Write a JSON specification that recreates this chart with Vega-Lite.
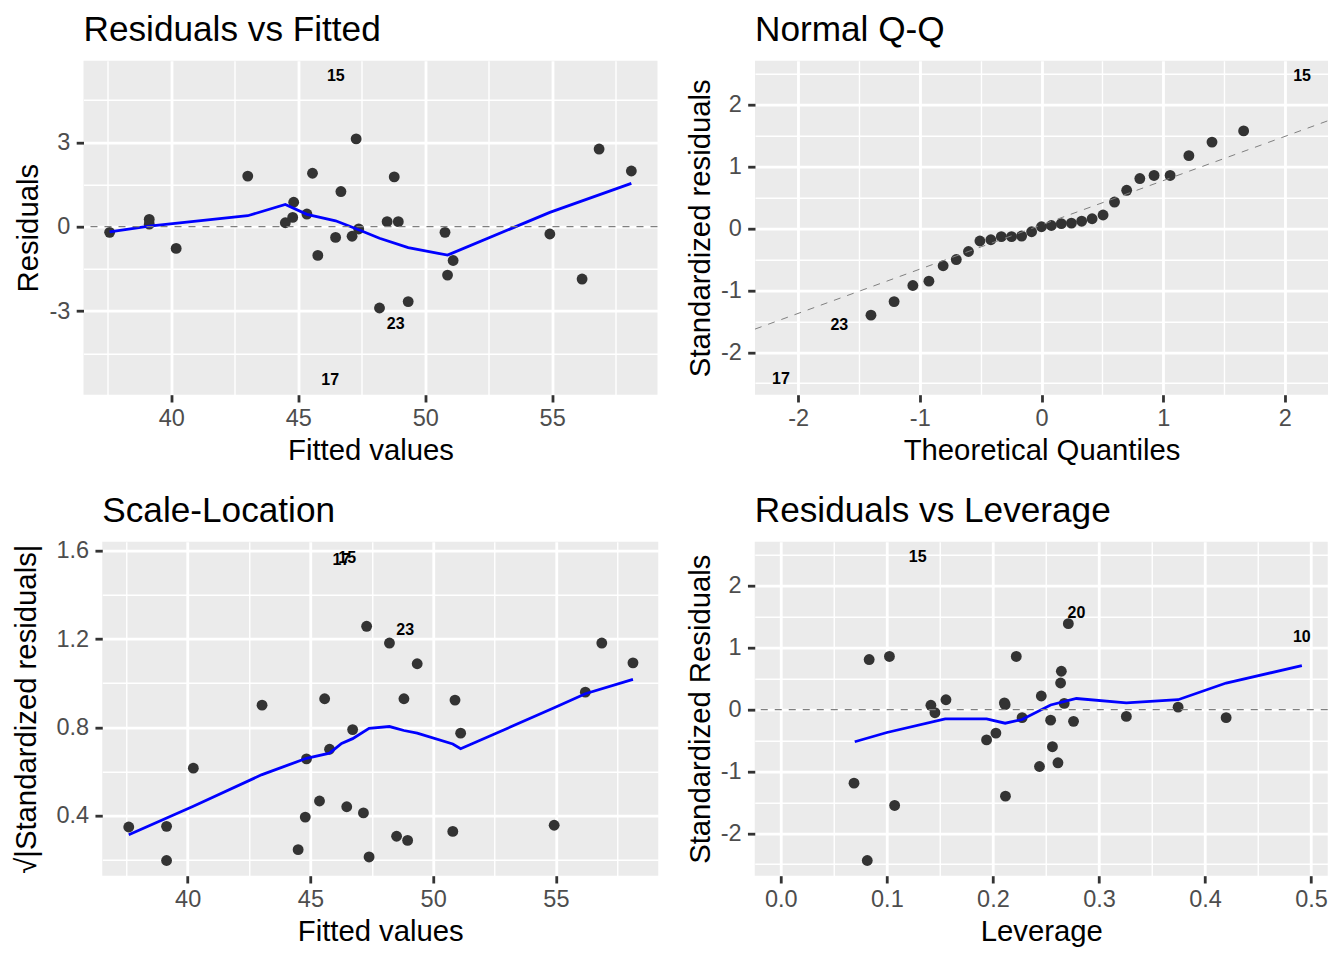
{
  "$schema": "https://vega.github.io/schema/vega-lite/v6.json",
  "padding": {"left": 12.3, "top": 12.7, "right": 5, "bottom": 5},
  "background": "#FFFFFF",
  "datasets": {
    "rvf": [
      {"fitted": 37.57, "resid": -0.20, "lab": null},
      {"fitted": 39.13, "resid": 0.26, "lab": null},
      {"fitted": 39.13, "resid": 0.09, "lab": null},
      {"fitted": 40.19, "resid": -0.77, "lab": null},
      {"fitted": 43.01, "resid": 1.80, "lab": null},
      {"fitted": 44.49, "resid": 0.14, "lab": null},
      {"fitted": 44.82, "resid": 0.87, "lab": null},
      {"fitted": 44.78, "resid": 0.33, "lab": null},
      {"fitted": 45.34, "resid": 0.45, "lab": null},
      {"fitted": 45.56, "resid": 1.90, "lab": null},
      {"fitted": 45.77, "resid": -1.02, "lab": null},
      {"fitted": 46.47, "resid": -0.38, "lab": null},
      {"fitted": 46.68, "resid": 1.25, "lab": null},
      {"fitted": 47.28, "resid": 3.12, "lab": null},
      {"fitted": 47.12, "resid": -0.34, "lab": null},
      {"fitted": 47.38, "resid": -0.08, "lab": null},
      {"fitted": 48.20, "resid": -2.89, "lab": null},
      {"fitted": 48.50, "resid": 0.18, "lab": null},
      {"fitted": 48.78, "resid": 1.77, "lab": null},
      {"fitted": 48.94, "resid": 0.18, "lab": null},
      {"fitted": 49.33, "resid": -2.66, "lab": null},
      {"fitted": 50.78, "resid": -0.20, "lab": null},
      {"fitted": 51.10, "resid": -1.20, "lab": null},
      {"fitted": 50.88, "resid": -1.72, "lab": null},
      {"fitted": 54.91, "resid": -0.26, "lab": null},
      {"fitted": 56.18, "resid": -1.86, "lab": null},
      {"fitted": 56.85, "resid": 2.76, "lab": null},
      {"fitted": 58.12, "resid": 1.98, "lab": null},
      {"fitted": 46.48, "resid": 5.36, "lab": "15"},
      {"fitted": 46.26, "resid": -5.43, "lab": "17"},
      {"fitted": 48.84, "resid": -3.44, "lab": "23"}
    ],
    "rvf_smooth": [
      {"fitted": 37.57, "resid": -0.18},
      {"fitted": 39.13, "resid": 0.02},
      {"fitted": 43.01, "resid": 0.39},
      {"fitted": 44.49, "resid": 0.79},
      {"fitted": 45.34, "resid": 0.44},
      {"fitted": 46.47, "resid": 0.21},
      {"fitted": 47.38, "resid": -0.11},
      {"fitted": 48.20, "resid": -0.41},
      {"fitted": 49.33, "resid": -0.74},
      {"fitted": 50.88, "resid": -1.01},
      {"fitted": 54.91, "resid": 0.51},
      {"fitted": 58.12, "resid": 1.54}
    ],
    "qq": [
      {"theo": -2.141, "stdres": -2.44, "lab": "17"},
      {"theo": -1.661, "stdres": -1.56, "lab": "23"},
      {"theo": -1.401, "stdres": -1.40, "lab": null},
      {"theo": -1.211, "stdres": -1.18, "lab": null},
      {"theo": -1.057, "stdres": -0.92, "lab": null},
      {"theo": -0.925, "stdres": -0.85, "lab": null},
      {"theo": -0.808, "stdres": -0.60, "lab": null},
      {"theo": -0.700, "stdres": -0.50, "lab": null},
      {"theo": -0.600, "stdres": -0.37, "lab": null},
      {"theo": -0.506, "stdres": -0.20, "lab": null},
      {"theo": -0.416, "stdres": -0.18, "lab": null},
      {"theo": -0.330, "stdres": -0.13, "lab": null},
      {"theo": -0.246, "stdres": -0.13, "lab": null},
      {"theo": -0.163, "stdres": -0.12, "lab": null},
      {"theo": -0.081, "stdres": -0.05, "lab": null},
      {"theo": 0.0, "stdres": 0.03, "lab": null},
      {"theo": 0.081, "stdres": 0.05, "lab": null},
      {"theo": 0.163, "stdres": 0.08, "lab": null},
      {"theo": 0.246, "stdres": 0.09, "lab": null},
      {"theo": 0.330, "stdres": 0.12, "lab": null},
      {"theo": 0.416, "stdres": 0.16, "lab": null},
      {"theo": 0.506, "stdres": 0.22, "lab": null},
      {"theo": 0.600, "stdres": 0.43, "lab": null},
      {"theo": 0.700, "stdres": 0.62, "lab": null},
      {"theo": 0.808, "stdres": 0.81, "lab": null},
      {"theo": 0.925, "stdres": 0.86, "lab": null},
      {"theo": 1.057, "stdres": 0.86, "lab": null},
      {"theo": 1.211, "stdres": 1.18, "lab": null},
      {"theo": 1.401, "stdres": 1.40, "lab": null},
      {"theo": 1.661, "stdres": 1.58, "lab": null},
      {"theo": 2.141, "stdres": 2.47, "lab": "15"}
    ],
    "qqline": [
      {"theo": -2.354, "stdres": -1.625},
      {"theo": 2.354, "stdres": 1.745}
    ],
    "sl": [
      {"fitted": 37.60, "val": 0.347, "lab": null},
      {"fitted": 39.14, "val": 0.350, "lab": null},
      {"fitted": 39.14, "val": 0.195, "lab": null},
      {"fitted": 40.23, "val": 0.614, "lab": null},
      {"fitted": 43.03, "val": 0.900, "lab": null},
      {"fitted": 44.50, "val": 0.244, "lab": null},
      {"fitted": 44.79, "val": 0.392, "lab": null},
      {"fitted": 44.84, "val": 0.656, "lab": null},
      {"fitted": 45.37, "val": 0.465, "lab": null},
      {"fitted": 45.58, "val": 0.929, "lab": null},
      {"fitted": 45.78, "val": 0.700, "lab": null},
      {"fitted": 46.48, "val": 0.439, "lab": null},
      {"fitted": 46.72, "val": 0.789, "lab": null},
      {"fitted": 47.29, "val": 1.258, "lab": null},
      {"fitted": 47.16, "val": 0.411, "lab": null},
      {"fitted": 47.39, "val": 0.211, "lab": null},
      {"fitted": 48.22, "val": 1.182, "lab": null},
      {"fitted": 48.51, "val": 0.305, "lab": null},
      {"fitted": 48.81, "val": 0.929, "lab": null},
      {"fitted": 48.96, "val": 0.286, "lab": null},
      {"fitted": 49.35, "val": 1.088, "lab": null},
      {"fitted": 50.80, "val": 0.327, "lab": null},
      {"fitted": 50.89, "val": 0.923, "lab": null},
      {"fitted": 51.12, "val": 0.773, "lab": null},
      {"fitted": 54.93, "val": 0.355, "lab": null},
      {"fitted": 56.20, "val": 0.959, "lab": null},
      {"fitted": 56.87, "val": 1.182, "lab": null},
      {"fitted": 58.14, "val": 1.092, "lab": null},
      {"fitted": 46.26, "val": 1.560, "lab": "17"},
      {"fitted": 46.50, "val": 1.570, "lab": "15"},
      {"fitted": 48.86, "val": 1.240, "lab": "23"}
    ],
    "sl_smooth": [
      {"fitted": 37.60, "val": 0.312},
      {"fitted": 40.23, "val": 0.441},
      {"fitted": 43.03, "val": 0.585},
      {"fitted": 44.84, "val": 0.659},
      {"fitted": 45.78, "val": 0.682},
      {"fitted": 46.27, "val": 0.726},
      {"fitted": 46.72, "val": 0.748},
      {"fitted": 47.39, "val": 0.795},
      {"fitted": 48.22, "val": 0.803},
      {"fitted": 48.81, "val": 0.785},
      {"fitted": 49.35, "val": 0.773},
      {"fitted": 50.80, "val": 0.724},
      {"fitted": 51.12, "val": 0.702},
      {"fitted": 54.93, "val": 0.888},
      {"fitted": 56.20, "val": 0.952},
      {"fitted": 58.14, "val": 1.017}
    ],
    "rvl": [
      {"lev": 0.069, "stdres": -1.19, "lab": null},
      {"lev": 0.0815, "stdres": -2.44, "lab": null},
      {"lev": 0.0833, "stdres": 0.81, "lab": null},
      {"lev": 0.1024, "stdres": 0.86, "lab": null},
      {"lev": 0.1073, "stdres": -1.55, "lab": null},
      {"lev": 0.1415, "stdres": 0.07, "lab": null},
      {"lev": 0.1453, "stdres": -0.05, "lab": null},
      {"lev": 0.1557, "stdres": 0.16, "lab": null},
      {"lev": 0.194, "stdres": -0.49, "lab": null},
      {"lev": 0.2028, "stdres": -0.38, "lab": null},
      {"lev": 0.2108, "stdres": 0.11, "lab": null},
      {"lev": 0.2115, "stdres": 0.08, "lab": null},
      {"lev": 0.2118, "stdres": -1.40, "lab": null},
      {"lev": 0.222, "stdres": 0.86, "lab": null},
      {"lev": 0.2275, "stdres": -0.13, "lab": null},
      {"lev": 0.2439, "stdres": -0.92, "lab": null},
      {"lev": 0.2456, "stdres": 0.22, "lab": null},
      {"lev": 0.2544, "stdres": -0.17, "lab": null},
      {"lev": 0.2561, "stdres": -0.60, "lab": null},
      {"lev": 0.2613, "stdres": -0.86, "lab": null},
      {"lev": 0.2638, "stdres": 0.43, "lab": null},
      {"lev": 0.2645, "stdres": 0.62, "lab": null},
      {"lev": 0.2672, "stdres": 0.10, "lab": null},
      {"lev": 0.2711, "stdres": 1.39, "lab": null},
      {"lev": 0.276, "stdres": -0.19, "lab": null},
      {"lev": 0.3258, "stdres": -0.11, "lab": null},
      {"lev": 0.3746, "stdres": 0.04, "lab": null},
      {"lev": 0.4199, "stdres": -0.13, "lab": null},
      {"lev": 0.129, "stdres": 2.47, "lab": "15"},
      {"lev": 0.2787, "stdres": 1.57, "lab": "20"},
      {"lev": 0.4913, "stdres": 1.18, "lab": "10"}
    ],
    "rvl_smooth": [
      {"lev": 0.0697, "stdres": -0.52},
      {"lev": 0.1, "stdres": -0.37},
      {"lev": 0.155, "stdres": -0.15},
      {"lev": 0.194, "stdres": -0.15},
      {"lev": 0.2115, "stdres": -0.22},
      {"lev": 0.2275, "stdres": -0.16},
      {"lev": 0.2544, "stdres": 0.075},
      {"lev": 0.2787, "stdres": 0.18},
      {"lev": 0.3258, "stdres": 0.11},
      {"lev": 0.3746, "stdres": 0.16},
      {"lev": 0.4199, "stdres": 0.43},
      {"lev": 0.4913, "stdres": 0.71}
    ]
  },
  "center": true,
  "spacing": 27,
  "vconcat": [
    {
      "spacing": 27.5,
      "hconcat": [
        {
          "width": 574, "height": 334,
          "title": {"text": "Residuals vs Fitted", "offset": 12},
          "layer": [
            {
              "data": {"name": "rvf"},
              "transform": [{"filter": "datum.lab == null"}],
              "mark": {"type": "point", "filled": true, "size": 118, "color": "#333333", "opacity": 1},
              "encoding": {
                "x": {"field": "fitted", "type": "quantitative", "title": "Fitted values",
                  "scale": {"domain": [36.54, 59.15], "nice": false, "zero": false},
                  "axis": {"values": [37.5, 40, 42.5, 45, 47.5, 50, 52.5, 55, 57.5], "tickCount": 30,
                    "labelExpr": "indexof([40, 45, 50, 55], datum.value) >= 0 ? '' + datum.value : ''",
                    "gridWidth": {"condition": {"test": "indexof([40, 45, 50, 55], datum.value) >= 0", "value": 2.8}, "value": 1.4},
                    "tickOpacity": {"condition": {"test": "indexof([40, 45, 50, 55], datum.value) >= 0", "value": 1}, "value": 0}}},
                "y": {"field": "resid", "type": "quantitative", "title": "Residuals",
                  "scale": {"domain": [-5.97, 5.9], "nice": false, "zero": false},
                  "axis": {"values": [-4.5, -3, -1.5, 0, 1.5, 3, 4.5], "tickCount": 30, "titlePadding": 5,
                    "labelExpr": "indexof([-3, 0, 3], datum.value) >= 0 ? '' + datum.value : ''",
                    "gridWidth": {"condition": {"test": "indexof([-3, 0, 3], datum.value) >= 0", "value": 2.8}, "value": 1.4},
                    "tickOpacity": {"condition": {"test": "indexof([-3, 0, 3], datum.value) >= 0", "value": 1}, "value": 0}}}
              }
            },
            {
              "data": {"name": "rvf"},
              "transform": [{"filter": "datum.lab != null"}],
              "mark": {"type": "text", "fontSize": 16, "fontWeight": "bold", "color": "#000000", "align": "center", "baseline": "middle"},
              "encoding": {
                "x": {"field": "fitted", "type": "quantitative"},
                "y": {"field": "resid", "type": "quantitative"},
                "text": {"field": "lab", "type": "nominal"}
              }
            },
            {
              "data": {"name": "rvf_smooth"},
              "mark": {"type": "line", "color": "#0000FF", "strokeWidth": 2.8},
              "encoding": {
                "x": {"field": "fitted", "type": "quantitative"},
                "y": {"field": "resid", "type": "quantitative"}
              }
            },
            {
              "data": {"values": [{}]},
              "mark": {"type": "rule", "color": "#7F7F7F", "strokeWidth": 1.2, "strokeDash": [7, 7]},
              "encoding": {"y": {"datum": 0}}
            }
          ]
        },
        {
          "width": 573, "height": 334,
          "title": {"text": "Normal Q-Q", "offset": 12},
          "layer": [
            {
              "data": {"name": "qq"},
              "transform": [{"filter": "datum.lab == null"}],
              "mark": {"type": "point", "filled": true, "size": 118, "color": "#333333", "opacity": 1},
              "encoding": {
                "x": {"field": "theo", "type": "quantitative", "title": "Theoretical Quantiles",
                  "scale": {"domain": [-2.354, 2.354], "nice": false, "zero": false},
                  "axis": {"values": [-2, -1.5, -1, -0.5, 0, 0.5, 1, 1.5, 2, 2.35], "tickCount": 30,
                    "labelExpr": "datum.value === 2.35 ? '000' : (indexof([-2, -1, 0, 1, 2], datum.value) >= 0 ? '' + datum.value : '')",
                    "labelOpacity": {"condition": {"test": "datum.value === 2.35", "value": 0}, "value": 1},
                    "gridOpacity": {"condition": {"test": "datum.value === 2.35", "value": 0}, "value": 1},
                    "gridWidth": {"condition": {"test": "indexof([-2, -1, 0, 1, 2], datum.value) >= 0", "value": 2.8}, "value": 1.4},
                    "tickOpacity": {"condition": {"test": "indexof([-2, -1, 0, 1, 2], datum.value) >= 0", "value": 1}, "value": 0}}},
                "y": {"field": "stdres", "type": "quantitative", "title": "Standardized residuals",
                  "scale": {"domain": [-2.686, 2.716], "nice": false, "zero": false},
                  "axis": {"values": [-2.5, -2, -1.5, -1, -0.5, 0, 0.5, 1, 1.5, 2, 2.5], "tickCount": 30, "titlePadding": 5,
                    "labelExpr": "indexof([-2, -1, 0, 1, 2], datum.value) >= 0 ? '' + datum.value : ''",
                    "gridWidth": {"condition": {"test": "indexof([-2, -1, 0, 1, 2], datum.value) >= 0", "value": 2.8}, "value": 1.4},
                    "tickOpacity": {"condition": {"test": "indexof([-2, -1, 0, 1, 2], datum.value) >= 0", "value": 1}, "value": 0}}}
              }
            },
            {
              "data": {"name": "qq"},
              "transform": [{"filter": "datum.lab != null"}],
              "mark": {"type": "text", "fontSize": 16, "fontWeight": "bold", "color": "#000000", "align": "center", "baseline": "middle"},
              "encoding": {
                "x": {"field": "theo", "type": "quantitative"},
                "y": {"field": "stdres", "type": "quantitative"},
                "text": {"field": "lab", "type": "nominal"}
              }
            },
            {
              "data": {"name": "qqline"},
              "mark": {"type": "line", "color": "#7F7F7F", "strokeWidth": 1.0, "strokeDash": [7, 7]},
              "encoding": {
                "x": {"field": "theo", "type": "quantitative"},
                "y": {"field": "stdres", "type": "quantitative"}
              }
            }
          ]
        }
      ]
    },
    {
      "spacing": 27.5,
      "hconcat": [
        {
          "width": 556, "height": 334,
          "title": {"text": "Scale-Location", "offset": 9.5},
          "layer": [
            {
              "data": {"name": "sl"},
              "transform": [{"filter": "datum.lab == null"}],
              "mark": {"type": "point", "filled": true, "size": 118, "color": "#333333", "opacity": 1},
              "encoding": {
                "x": {"field": "fitted", "type": "quantitative", "title": "Fitted values",
                  "scale": {"domain": [36.52, 59.17], "nice": false, "zero": false},
                  "axis": {"values": [37.5, 40, 42.5, 45, 47.5, 50, 52.5, 55, 57.5], "tickCount": 30,
                    "labelExpr": "indexof([40, 45, 50, 55], datum.value) >= 0 ? '' + datum.value : ''",
                    "gridWidth": {"condition": {"test": "indexof([40, 45, 50, 55], datum.value) >= 0", "value": 2.8}, "value": 1.4},
                    "tickOpacity": {"condition": {"test": "indexof([40, 45, 50, 55], datum.value) >= 0", "value": 1}, "value": 0}}},
                "y": {"field": "val", "type": "quantitative", "title": "√|Standardized residuals|",
                  "scale": {"domain": [0.126, 1.642], "nice": false, "zero": false},
                  "axis": {"values": [0.2, 0.4, 0.6, 0.8, 1, 1.2, 1.4, 1.6], "tickCount": 30, "titlePadding": 14,
                    "labelExpr": "indexof([0.4, 0.8, 1.2, 1.6], datum.value) >= 0 ? format(datum.value, '.1f') : ''",
                    "gridWidth": {"condition": {"test": "indexof([0.4, 0.8, 1.2, 1.6], datum.value) >= 0", "value": 2.8}, "value": 1.4},
                    "tickOpacity": {"condition": {"test": "indexof([0.4, 0.8, 1.2, 1.6], datum.value) >= 0", "value": 1}, "value": 0}}}
              }
            },
            {
              "data": {"name": "sl"},
              "transform": [{"filter": "datum.lab != null"}],
              "mark": {"type": "text", "fontSize": 16, "fontWeight": "bold", "color": "#000000", "align": "center", "baseline": "middle"},
              "encoding": {
                "x": {"field": "fitted", "type": "quantitative"},
                "y": {"field": "val", "type": "quantitative"},
                "text": {"field": "lab", "type": "nominal"}
              }
            },
            {
              "data": {"name": "sl_smooth"},
              "mark": {"type": "line", "color": "#0000FF", "strokeWidth": 2.8},
              "encoding": {
                "x": {"field": "fitted", "type": "quantitative"},
                "y": {"field": "val", "type": "quantitative"}
              }
            }
          ]
        },
        {
          "width": 573, "height": 334,
          "title": {"text": "Residuals vs Leverage", "offset": 12},
          "layer": [
            {
              "data": {"name": "rvl"},
              "transform": [{"filter": "datum.lab == null"}],
              "mark": {"type": "point", "filled": true, "size": 118, "color": "#333333", "opacity": 1},
              "encoding": {
                "x": {"field": "lev", "type": "quantitative", "title": "Leverage",
                  "scale": {"domain": [-0.0246, 0.5157], "nice": false, "zero": false},
                  "axis": {"values": [0, 0.05, 0.1, 0.15, 0.2, 0.25, 0.3, 0.35, 0.4, 0.45, 0.5], "tickCount": 30,
                    "labelExpr": "indexof([0, 0.1, 0.2, 0.3, 0.4, 0.5], datum.value) >= 0 ? format(datum.value, '.1f') : ''",
                    "gridWidth": {"condition": {"test": "indexof([0, 0.1, 0.2, 0.3, 0.4, 0.5], datum.value) >= 0", "value": 2.8}, "value": 1.4},
                    "tickOpacity": {"condition": {"test": "indexof([0, 0.1, 0.2, 0.3, 0.4, 0.5], datum.value) >= 0", "value": 1}, "value": 0}}},
                "y": {"field": "stdres", "type": "quantitative", "title": "Standardized Residuals",
                  "scale": {"domain": [-2.686, 2.716], "nice": false, "zero": false},
                  "axis": {"values": [-2.5, -2, -1.5, -1, -0.5, 0, 0.5, 1, 1.5, 2, 2.5], "tickCount": 30, "titlePadding": 5,
                    "labelExpr": "indexof([-2, -1, 0, 1, 2], datum.value) >= 0 ? '' + datum.value : ''",
                    "gridWidth": {"condition": {"test": "indexof([-2, -1, 0, 1, 2], datum.value) >= 0", "value": 2.8}, "value": 1.4},
                    "tickOpacity": {"condition": {"test": "indexof([-2, -1, 0, 1, 2], datum.value) >= 0", "value": 1}, "value": 0}}}
              }
            },
            {
              "data": {"name": "rvl"},
              "transform": [{"filter": "datum.lab != null"}],
              "mark": {"type": "text", "fontSize": 16, "fontWeight": "bold", "color": "#000000", "align": "center", "baseline": "middle"},
              "encoding": {
                "x": {"field": "lev", "type": "quantitative"},
                "y": {"field": "stdres", "type": "quantitative"},
                "text": {"field": "lab", "type": "nominal"}
              }
            },
            {
              "data": {"name": "rvl_smooth"},
              "mark": {"type": "line", "color": "#0000FF", "strokeWidth": 2.8},
              "encoding": {
                "x": {"field": "lev", "type": "quantitative"},
                "y": {"field": "stdres", "type": "quantitative"}
              }
            },
            {
              "data": {"values": [{}]},
              "mark": {"type": "rule", "color": "#7F7F7F", "strokeWidth": 1.2, "strokeDash": [7, 7]},
              "encoding": {"y": {"datum": 0}}
            }
          ]
        }
      ]
    }
  ],
  "config": {
    "font": "Liberation Sans",
    "view": {"fill": "#EBEBEB", "stroke": null},
    "axis": {
      "domain": false, "grid": true, "gridColor": "#FFFFFF",
      "labelFont": "Liberation Sans", "labelFontSize": 23.5, "labelColor": "#4D4D4D",
      "titleFont": "Liberation Sans", "titleFontSize": 29.3, "titleFontWeight": "normal", "titleColor": "#000000",
      "tickColor": "#333333", "tickSize": 7.3, "tickWidth": 2.8,
      "labelPadding": 5, "titlePadding": 6, "labelFlush": false, "labelOverlap": false
    },
    "axisY": {"labelPadding": 6.4},
    "title": {"font": "Liberation Sans", "fontSize": 35.2, "fontWeight": "normal", "color": "#000000", "anchor": "start", "frame": "group"}
  }
}
